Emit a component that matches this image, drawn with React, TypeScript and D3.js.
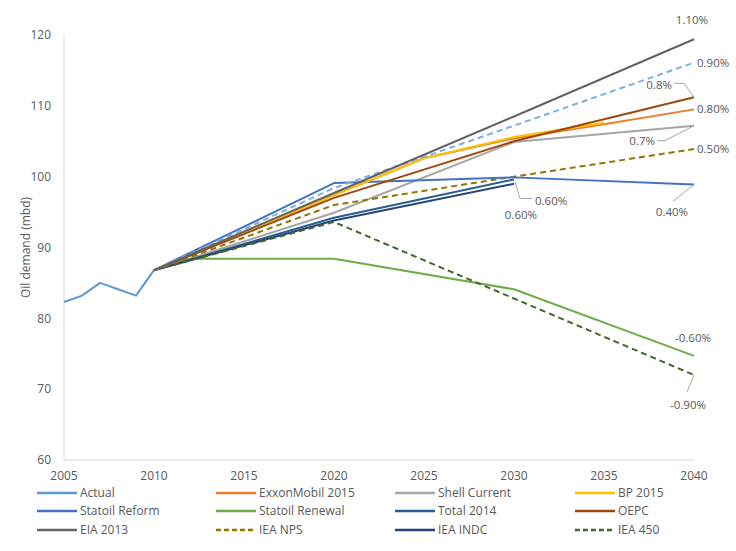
import React from "react";
import * as d3 from "d3";

const xTicks = [2005, 2010, 2015, 2020, 2025, 2030, 2035, 2040];
const yTicks = [60, 70, 80, 90, 100, 110, 120];

const actualYears = [2005, 2006, 2007, 2008, 2009, 2010];
const actualValues = [82.3, 83.2, 85.0, 84.1, 83.2, 86.8];

const exxonYears = [2010, 2015, 2020, 2025, 2030, 2035, 2040];
const exxonValues = [86.8, 92.0, 97.4, 102.6, 105.4, 107.4, 109.5];

const shellYears = [2010, 2020, 2030, 2040];
const shellValues = [86.8, 94.9, 104.9, 107.2];

const bpYears = [2010, 2015, 2020, 2025, 2030, 2035];
const bpValues = [86.8, 92.1, 97.4, 102.6, 105.6, 107.6];

const reformYears = [2010, 2020, 2030, 2040];
const reformValues = [86.8, 99.1, 99.9, 98.9];

const renewalYears = [2010, 2012, 2020, 2030, 2040];
const renewalValues = [86.8, 88.4, 88.4, 84.1, 74.7];

const totalYears = [2010, 2020, 2030];
const totalValues = [86.8, 94.2, 99.6];

const oepcYears = [2010, 2020, 2030, 2040];
const oepcValues = [86.8, 97.0, 105.0, 111.2];

const eiaYears = [2010, 2020, 2030, 2040];
const eiaValues = [86.8, 97.7, 108.5, 119.4];

const npsYears = [2010, 2020, 2030, 2040];
const npsValues = [86.8, 96.0, 100.0, 103.9];

const indcYears = [2010, 2020, 2030];
const indcValues = [86.8, 93.8, 99.0];

const iea450Years = [2010, 2020, 2030, 2040];
const iea450Values = [86.8, 93.6, 82.8, 72.0];

const cpsYears = [2010, 2020, 2030, 2040];
const cpsValues = [86.8, 98.4, 107.2, 116.1];

type Series = { name: string; years: number[]; values: number[]; color: string; dash?: string; legend: boolean };

const series: Series[] = [
  { name: "Actual", years: actualYears, values: actualValues, color: "#5B9BD5", legend: true },
  { name: "ExxonMobil 2015", years: exxonYears, values: exxonValues, color: "#ED7D31", legend: true },
  { name: "Shell Current", years: shellYears, values: shellValues, color: "#A5A5A5", legend: true },
  { name: "BP 2015", years: bpYears, values: bpValues, color: "#FFC000", legend: true },
  { name: "Statoil Reform", years: reformYears, values: reformValues, color: "#4472C4", legend: true },
  { name: "Statoil Renewal", years: renewalYears, values: renewalValues, color: "#70AD47", legend: true },
  { name: "Total 2014", years: totalYears, values: totalValues, color: "#255E91", legend: true },
  { name: "OEPC", years: oepcYears, values: oepcValues, color: "#9E480E", legend: true },
  { name: "EIA 2013", years: eiaYears, values: eiaValues, color: "#636363", legend: true },
  { name: "IEA NPS", years: npsYears, values: npsValues, color: "#997300", dash: "6,4", legend: true },
  { name: "IEA INDC", years: indcYears, values: indcValues, color: "#264478", legend: true },
  { name: "IEA 450", years: iea450Years, values: iea450Values, color: "#43682B", dash: "6,4", legend: true },
  { name: "IEA CPS", years: cpsYears, values: cpsValues, color: "#7CB0E0", dash: "6,4", legend: false },
];

const drawOrder = [0, 2, 5, 6, 10, 11, 9, 4, 1, 3, 7, 12, 8];

const W = 736;
const H = 551;
const FONT = "'Open Sans', 'Liberation Sans', sans-serif";
const TXT = "#595959";

export default function App() {
  const x = d3.scaleLinear().domain([2005, 2040]).range([64, 694]);
  const y = d3.scaleLinear().domain([60, 120]).range([460, 35]);
  const line = d3
    .line<[number, number]>()
    .x((d) => x(d[0]))
    .y((d) => y(d[1]));

  const legendSeries = series.filter((s) => s.legend);
  const colX = [37, 216, 395, 575];
  const rowY = [493, 511, 530];

  const endY = (s: Series) => y(s.values[s.values.length - 1]);
  const S = (n: string) => series.find((s) => s.name === n)!;

  return (
    <svg
      width={W}
      height={H}
      style={{ display: "block", background: "#fff", position: "absolute", left: 0, top: 0 }}
      fontFamily={FONT}
    >
      <rect width={W} height={H} fill="#fff" />
      {/* axes */}
      <line x1={x(2005)} x2={x(2005)} y1={y(120)} y2={y(60)} stroke="#D9D9D9" strokeWidth={1} />
      <line x1={x(2005)} x2={x(2040)} y1={y(60)} y2={y(60)} stroke="#D9D9D9" strokeWidth={1} />
      {yTicks.map((t) => (
        <text key={t} x={51} y={y(t)} dy="0.35em" textAnchor="end" fontSize={12} fill={TXT}>
          {t}
        </text>
      ))}
      {xTicks.map((t) => (
        <text key={t} x={x(t)} y={476} dy="0.35em" textAnchor="middle" fontSize={12} fill={TXT}>
          {t}
        </text>
      ))}
      <text
        transform={`translate(26,${(y(60) + y(120)) / 2}) rotate(-90)`}
        textAnchor="middle"
        dy="0.35em"
        fontSize={12}
        fill={TXT}
      >
        Oil demand (mbd)
      </text>

      {/* series */}
      {drawOrder.map((i) => {
        const s = series[i];
        const pts = s.years.map((yr, k) => [yr, s.values[k]] as [number, number]);
        return (
          <path
            key={s.name}
            d={line(pts) || ""}
            fill="none"
            stroke={s.color}
            strokeWidth={2}
            strokeDasharray={s.dash}
            strokeLinejoin="round"
          />
        );
      })}

      {/* data labels */}
      <g fontSize={11.5} fill={TXT}>
        <text x={x(2040) - 2} y={endY(S("EIA 2013")) - 19} dy="0.35em" textAnchor="middle">1.10%</text>
        <text x={x(2040) + 3} y={endY(S("IEA CPS"))} dy="0.35em">0.90%</text>
        <polyline
          points={`${x(2040) - 20},${endY(S("OEPC")) - 14} ${x(2040) - 10},${endY(S("OEPC")) - 14} ${x(2040)},${endY(S("OEPC"))}`}
          fill="none"
          stroke="#A6A6A6"
          strokeWidth={1}
        />
        <text x={x(2040) - 22} y={endY(S("OEPC")) - 12} dy="0.35em" textAnchor="end">0.8%</text>
        <text x={x(2040) + 3} y={endY(S("ExxonMobil 2015"))} dy="0.35em">0.80%</text>
        <polyline
          points={`${x(2040) - 37},${endY(S("Shell Current")) + 15} ${x(2040) - 29},${endY(S("Shell Current")) + 15} ${x(2040)},${endY(S("Shell Current"))}`}
          fill="none"
          stroke="#A6A6A6"
          strokeWidth={1}
        />
        <text x={x(2040) - 39} y={endY(S("Shell Current")) + 15} dy="0.35em" textAnchor="end">0.7%</text>
        <text x={x(2040) + 3} y={endY(S("IEA NPS"))} dy="0.35em">0.50%</text>
        <polyline
          points={`${x(2030) + 1},${endY(S("Total 2014")) + 2} ${x(2030) + 6},${endY(S("Total 2014")) + 19} ${x(2030) + 18},${endY(S("Total 2014")) + 19}`}
          fill="none"
          stroke="#A6A6A6"
          strokeWidth={1}
        />
        <text x={x(2030) + 21} y={endY(S("Total 2014")) + 21} dy="0.35em">0.60%</text>
        <text x={x(2030) + 7} y={endY(S("IEA INDC")) + 31} dy="0.35em" textAnchor="middle">0.60%</text>
        <line
          x1={x(2040)}
          y1={endY(S("Statoil Reform"))}
          x2={x(2040) - 21}
          y2={endY(S("Statoil Reform")) + 17}
          stroke="#A6A6A6"
          strokeWidth={1}
        />
        <text x={x(2040) - 22} y={endY(S("Statoil Reform")) + 28} dy="0.35em" textAnchor="middle">0.40%</text>
        <text x={x(2040) - 1} y={endY(S("Statoil Renewal")) - 18} dy="0.35em" textAnchor="middle">-0.60%</text>
        <line
          x1={x(2040)}
          y1={endY(S("IEA 450"))}
          x2={x(2040) - 7}
          y2={endY(S("IEA 450")) + 17}
          stroke="#A6A6A6"
          strokeWidth={1}
        />
        <text x={x(2040) - 6} y={endY(S("IEA 450")) + 30} dy="0.35em" textAnchor="middle">-0.90%</text>
      </g>

      {/* legend */}
      {legendSeries.map((s, i) => {
        const cx = colX[i % 4];
        const cy = rowY[Math.floor(i / 4)];
        return (
          <g key={s.name}>
            <line
              x1={cx}
              x2={cx + 40}
              y1={cy}
              y2={cy}
              stroke={s.color}
              strokeWidth={2.5}
              strokeDasharray={s.dash ? "5,3" : undefined}
            />
            <text x={cx + 43} y={cy} dy="0.35em" fontSize={12} fill={TXT}>
              {s.name}
            </text>
          </g>
        );
      })}
    </svg>
  );
}
